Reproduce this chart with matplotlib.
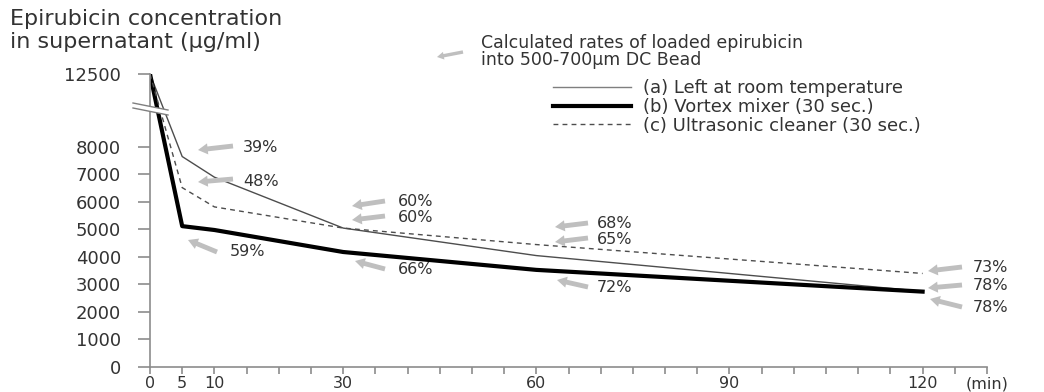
import numpy as np
import matplotlib
matplotlib.use("Agg")
import matplotlib.pyplot as plt
from matplotlib.patches import Polygon
from matplotlib.lines import Line2D

# time after mixing (min)
time_min = [0, 5, 10, 30, 60, 120]
# epirubicin in supernatant (ug/ml)
room_temp = [12500, 7650, 6900, 5050, 4050, 2750]
vortex = [12500, 5120, 4980, 4180, 3530, 2740]
ultrasonic = [12500, 6520, 5820, 5050, 4450, 3400]

series_labels = ["(a) Left at room temperature",
                 "(b) Vortex mixer (30 sec.)",
                 "(c) Ultrasonic cleaner (30 sec.)"]

y_ticks = [0, 1000, 2000, 3000, 4000, 5000, 6000, 7000, 8000, 12500]
x_labelled = {0: "0", 5: "5", 10: "10", 30: "30", 60: "60", 90: "90",
              120: "120", 130: "(min)"}

# loading rates shown next to the curves
rate_labels = ["39%", "48%", "60%", "60%", "59%", "66%",
               "68%", "65%", "72%", "73%", "78%", "78%"]

W, H = 1044, 392

# arrow tail, arrow head, label position (image pixels) for each rate label
rate_layout = [
    ((233, 146), (198, 150), (243, 147)),
    ((233, 179), (198, 182), (243, 181)),
    ((385, 201), (352, 206), (398, 202)),
    ((385, 216), (352, 220), (398, 218)),
    ((217, 252), (188, 240), (230, 252)),
    ((385, 269), (355, 261), (398, 270)),
    ((588, 223), (555, 227), (597, 224)),
    ((588, 238), (555, 242), (597, 240)),
    ((588, 287), (557, 280), (597, 288)),
    ((962, 267), (928, 271), (973, 267)),
    ((962, 285), (928, 288), (973, 286)),
    ((962, 307), (930, 299), (973, 308)),
]

BREAK_AT = 8000
K = 2650 / 4500  # compression above the break


def fwd(v):
    v = np.asarray(v, dtype=float)
    return np.where(v <= BREAK_AT, v, BREAK_AT + (v - BREAK_AT) * K)


def inv(v):
    v = np.asarray(v, dtype=float)
    return np.where(v <= BREAK_AT, v, BREAK_AT + (v - BREAK_AT) / K)


def px(x, y):
    return (x / W, 1 - y / H)


plt.rcParams["font.family"] = ["DejaVu Sans"]
txt_col = "#333333"
axis_col = "#8c8c8c"
grey_arrow = "#bfbfbf"

fig = plt.figure(figsize=(W / 100, H / 100), dpi=100)
ax = fig.add_axes([150 / W, 1 - 367 / H, (987 - 150) / W, (367 - 74) / H])
ax.set_yscale("function", functions=(fwd, inv))

l1, = ax.plot(time_min, room_temp, color="#4d4d4d", lw=1.0)
l2, = ax.plot(time_min, vortex, color="black", lw=3.0)
l3, = ax.plot(time_min, ultrasonic, color="#4d4d4d", lw=1.0, ls=(0, (3.5, 3)))

ax.set_xlim(0, 130)
ax.set_ylim(0, 12500)
ax.set_yticks(y_ticks)
ax.set_yticklabels([str(v) for v in y_ticks])
xt = list(range(0, 131, 5))
ax.set_xticks(xt)
ax.set_xticklabels([x_labelled.get(v, "") for v in xt])
ax.minorticks_off()

for s in ["top", "right"]:
    ax.spines[s].set_visible(False)
for s in ["left", "bottom"]:
    ax.spines[s].set_color(axis_col)
    ax.spines[s].set_linewidth(1.2)
ax.tick_params(axis="both", colors=axis_col, width=1.2, labelcolor=txt_col)
ax.tick_params(axis="y", length=9, pad=12, labelsize=13)
ax.tick_params(axis="x", length=5, pad=1.5, labelsize=11.5)

# axis break
band = Polygon([px(133, 103), px(168, 110), px(168, 115), px(133, 108)],
               closed=True, transform=fig.transFigure, facecolor="white",
               edgecolor="none", zorder=5)
fig.add_artist(band)
for y0 in (103, 108):
    (xa, ya), (xb, yb) = px(133, y0), px(168, y0 + 7)
    fig.add_artist(Line2D([xa, xb], [ya, yb], transform=fig.transFigure,
                          color="#7f7f7f", lw=1.0, zorder=6))

# y label
fig.text(*px(10, 19), "Epirubicin concentration", fontsize=16,
         color=txt_col, va="center", ha="left")
fig.text(*px(10, 42), "in supernatant (\u03bcg/ml)", fontsize=16,
         color=txt_col, va="center", ha="left")

# note about the arrows
arrow_style = "simple,head_length=0.7,head_width=0.8,tail_width=0.35"
fig.add_artist(plt.Annotation("", xy=px(437, 57), xytext=px(463, 52),
                              xycoords="figure fraction",
                              textcoords="figure fraction",
                              arrowprops=dict(arrowstyle=arrow_style,
                                              color=grey_arrow, lw=0,
                                              mutation_scale=7,
                                              shrinkA=0, shrinkB=0)))
fig.text(*px(481, 43), "Calculated rates of loaded epirubicin", fontsize=12.5,
         color=txt_col, va="center", ha="left")
fig.text(*px(481, 60), "into 500-700\u03bcm DC Bead", fontsize=12.5,
         color=txt_col, va="center", ha="left")

for lab, (tail, head, tpos) in zip(rate_labels, rate_layout):
    fig.add_artist(plt.Annotation("", xy=px(*head), xytext=px(*tail),
                                  xycoords="figure fraction",
                                  textcoords="figure fraction",
                                  arrowprops=dict(arrowstyle=arrow_style,
                                                  color=grey_arrow, lw=0,
                                                  mutation_scale=10,
                                                  shrinkA=0, shrinkB=0)))
    fig.text(*px(*tpos), lab, fontsize=11.5, color=txt_col,
             va="center", ha="left")

leg = fig.legend([l1, l2, l3], series_labels, loc="upper left",
                 bbox_to_anchor=px(553, 79), frameon=False, fontsize=13,
                 handlelength=4.3, handletextpad=0.7, labelspacing=0.05,
                 borderpad=0, borderaxespad=0, labelcolor=txt_col)
leg.get_lines()[0].set_color("#7f7f7f")

fig.savefig("out.png", dpi=100)
